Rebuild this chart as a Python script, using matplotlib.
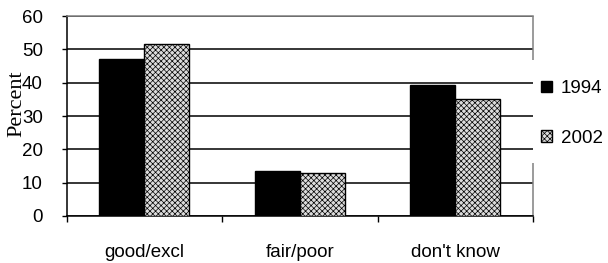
import matplotlib
matplotlib.use("Agg")
import matplotlib.pyplot as plt
import numpy as np

categories = ["good/excl", "fair/poor", "don't know"]
series_names = ["1994", "2002"]
values_1994 = [47.0, 13.5, 39.2]
values_2002 = [51.7, 12.8, 35.0]
yticks = [0, 10, 20, 30, 40, 50, 60]

W, H = 608, 263
fig = plt.figure(figsize=(W / 100, H / 100), dpi=100)
ax = fig.add_axes([66.7 / W, 1 - 216 / H, (533 - 66.7) / W, 200 / H])

x = np.arange(len(categories))
bw = 0.29
plt.rcParams['hatch.color'] = '#7a7a7a'
plt.rcParams['hatch.linewidth'] = 0.5
b1 = ax.bar(x - bw / 2, values_1994, bw, color='black', edgecolor='black', linewidth=1, zorder=3, label=series_names[0])
b2 = ax.bar(x + bw / 2, values_2002, bw, facecolor='#dcdcdc', edgecolor='black', linewidth=1,
            hatch='xxxxxx', zorder=3, label=series_names[1])

ax.set_xlim(-0.5, len(categories) - 0.5)
ax.set_ylim(0, 60)
ax.set_yticks(yticks)
ax.set_yticklabels([str(v) for v in yticks], fontsize=13.5, family='Liberation Sans')
ax.grid(axis='y', color='black', linewidth=1.1, zorder=1)
ax.set_axisbelow(True)

ax.set_xticks([-0.5, 0.5, 1.5, 2.5])
ax.set_xticklabels([])
ax.set_xticks(x, minor=True)
ax.set_xticklabels(categories, minor=True, fontsize=13.5, family='Liberation Sans')
ax.tick_params(axis='x', which='minor', length=0, pad=20)
ax.tick_params(axis='x', which='major', direction='out', length=4, width=1)
ax.tick_params(axis='y', direction='out', length=3.6, width=1, pad=13.5)

for s in ['left', 'bottom']:
    ax.spines[s].set_color('black')
    ax.spines[s].set_linewidth(1.1)
ax.spines['top'].set_color('#808080')
ax.spines['top'].set_linewidth(1.1)
ax.spines['right'].set_visible(False)
# right border, interrupted where the legend sits
for y0, y1 in [(0, (216 - 163) / 200), ((216 - 60) / 200, 1)]:
    ax.plot([1, 1], [y0, y1], transform=ax.transAxes, color='#808080', linewidth=1.1,
            clip_on=False, solid_capstyle='butt')

fig.text(17 / W, 1 - 104 / H, "Percent", rotation=90, ha='center', va='center',
         fontsize=16, family='Liberation Serif')

leg = fig.legend(handles=[b1, b2], labels=series_names, loc='center left',
                 bbox_to_anchor=(541 / W, 1 - 113.5 / H), frameon=False,
                 prop={'family': 'Liberation Sans', 'size': 13.5},
                 handlelength=0.6, handleheight=0.6, handletextpad=0.45,
                 labelspacing=1.75, borderpad=0, borderaxespad=0)

fig.savefig("out.png", dpi=100)
